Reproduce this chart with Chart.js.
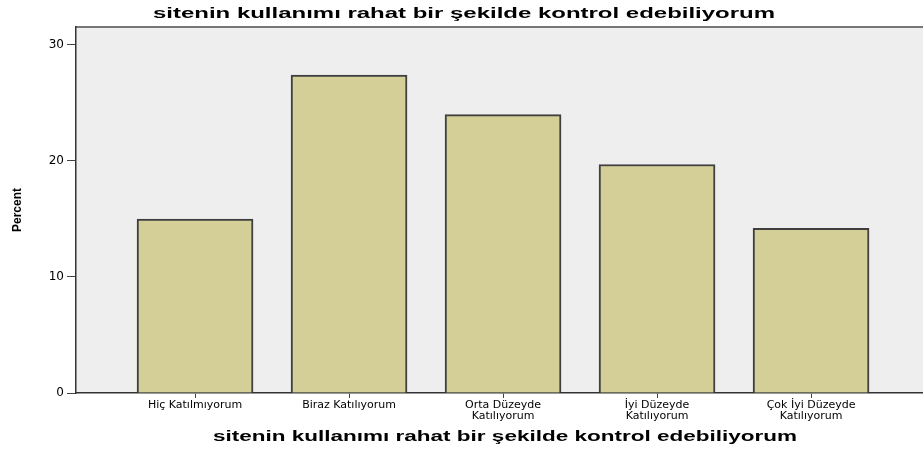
<!DOCTYPE html>
<html>
<head>
<meta charset="utf-8">
<script src="https://cdn.jsdelivr.net/npm/chart.js@4"></script>
<style>
  html, body { margin: 0; padding: 0; background: #fff; }
  #wrap { width: 923px; height: 450px; }
</style>
</head>
<body>
<div id="wrap"><canvas id="myChart" width="923" height="450"></canvas></div>
<script>
const chartTitle = 'sitenin kullanımı rahat bir şekilde kontrol edebiliyorum';
const categories = [
    ['Hiç Katılmıyorum'],
    ['Biraz Katılıyorum'],
    ['Orta Düzeyde', 'Katılıyorum'],
    ['İyi Düzeyde', 'Katılıyorum'],
    ['Çok İyi Düzeyde', 'Katılıyorum']
];
const percents = [15.0, 27.4, 24.0, 19.7, 14.2];
const yTicks = [0, 10, 20, 30];

// titles in the original are stretched wide, so draw them squeezed to a width
const stretchedTitles = {
    id: 'stretchedTitles',
    beforeDraw(chart) {
        const { ctx, chartArea } = chart;
        ctx.save();
        ctx.fillStyle = '#eeeeee';
        ctx.fillRect(chartArea.left, chartArea.top, chartArea.right - chartArea.left, chartArea.bottom - chartArea.top);
        ctx.strokeStyle = '#777';
        ctx.lineWidth = 2;
        ctx.beginPath();
        ctx.moveTo(chartArea.left, chartArea.top);
        ctx.lineTo(chartArea.right, chartArea.top);
        ctx.stroke();
        ctx.restore();
    },
    afterDraw(chart) {
        const ctx = chart.ctx;
        const drawText = (text, cx, cy, width, font) => {
            ctx.save();
            ctx.font = font;
            ctx.fillStyle = '#000';
            ctx.textAlign = 'center';
            ctx.textBaseline = 'middle';
            const w = ctx.measureText(text).width;
            ctx.translate(cx, cy);
            ctx.scale(width / w, 1);
            ctx.fillText(text, 0, 0);
            ctx.restore();
        };
        drawText(chartTitle, 464, 14, 622, 'bold 15px "Liberation Sans", Arial, sans-serif');
        drawText(chartTitle, 505, 437, 584, 'bold 15px "Liberation Sans", Arial, sans-serif');
    }
};

const ctx = document.getElementById('myChart').getContext('2d');
const myChart = new Chart(ctx, {
    type: 'bar',
    data: {
        datasets: [{
            label: 'Percent',
            data: percents.map((v, i) => ({ x: i, y: v })),
            backgroundColor: '#d3cf96',
            borderColor: '#3f3f3f',
            borderWidth: 2,
            barThickness: 116
        }]
    },
    options: {
        responsive: false,
        animation: false,
        layout: { padding: { top: 27, right: 0, left: 0, bottom: 0 } },
        plugins: {
            legend: { display: false },
            tooltip: { enabled: false }
        },
        scales: {
            x: {
                type: 'linear',
                offset: false,
                min: -0.773,
                max: 4.727,
                afterBuildTicks: (scale) => {
                    scale.ticks = categories.map((c, i) => ({ value: i }));
                },
                afterFit: (scale) => { scale.height = 57; },
                ticks: {
                    autoSkip: false,
                    maxRotation: 0,
                    padding: 2,
                    color: '#000',
                    font: { family: '"DejaVu Sans", sans-serif', size: 11, lineHeight: 1.0 },
                    callback: (v) => categories[v]
                },
                grid: {
                    offset: false,
                    drawOnChartArea: false,
                    tickLength: 5,
                    tickColor: '#444'
                },
                border: { color: '#333', width: 1.5 }
            },
            y: {
                min: 0,
                max: 31.55,
                afterBuildTicks: (scale) => {
                    scale.ticks = yTicks.map(v => ({ value: v }));
                },
                afterFit: (scale) => { scale.width = 76; },
                ticks: {
                    padding: 3,
                    color: '#000',
                    font: { family: '"DejaVu Sans", sans-serif', size: 12 }
                },
                grid: {
                    drawOnChartArea: false,
                    tickLength: 9,
                    tickColor: '#444'
                },
                border: { color: '#333', width: 1.5 },
                title: {
                    display: true,
                    text: 'Percent',
                    color: '#000',
                    padding: { top: 10, bottom: 0 },
                    font: { family: '"Liberation Sans", Arial, sans-serif', size: 12, weight: 'bold' }
                }
            }
        }
    },
    plugins: [stretchedTitles]
});
</script>
</body>
</html>
